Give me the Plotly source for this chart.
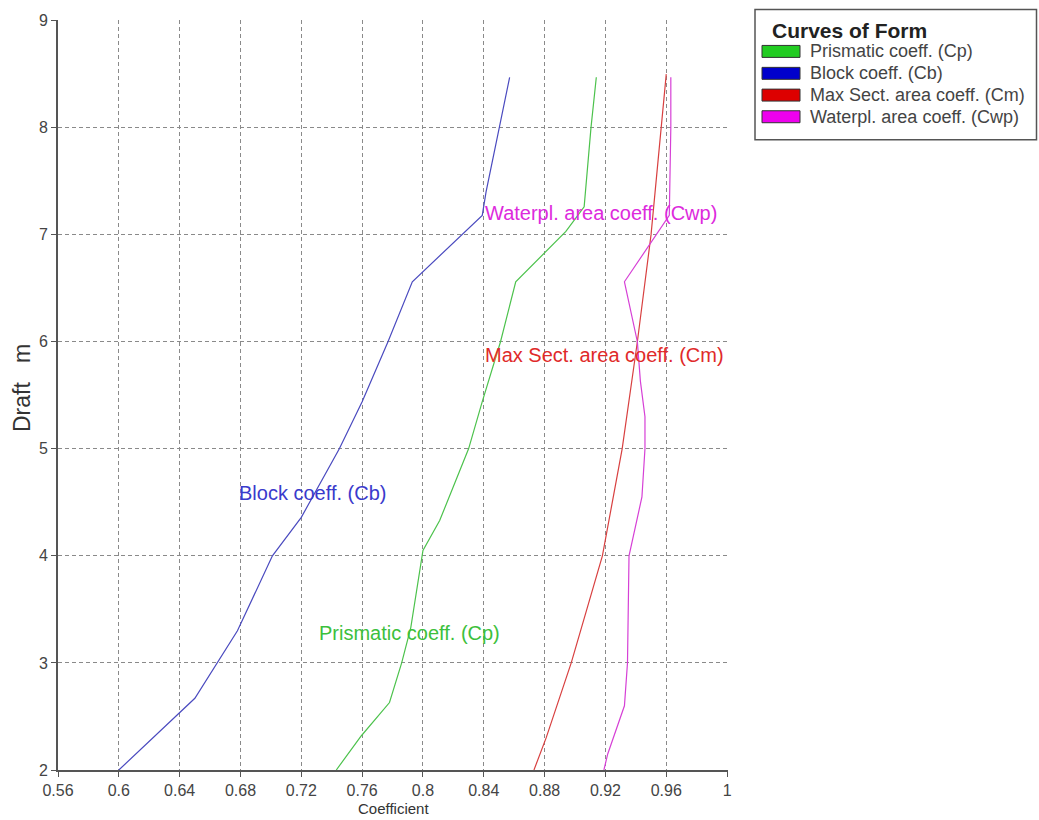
import plotly.graph_objects as go

# ---- data ----
series_names = ["Prismatic coeff. (Cp)", "Block coeff. (Cb)",
                "Max Sect. area coeff. (Cm)", "Waterpl. area coeff. (Cwp)"]

cp_draft = [2.0, 2.32, 2.63, 3.0, 3.33, 4.05, 4.33, 5.0, 5.44, 6.0, 6.56, 7.03, 7.26, 8.0, 8.47]
cp = [0.743, 0.7595, 0.778, 0.786, 0.792, 0.800, 0.811, 0.830, 0.839, 0.851, 0.861, 0.894, 0.906, 0.9105, 0.914]

cb_draft = [2.0, 2.67, 3.30, 4.0, 4.36, 5.0, 5.44, 6.0, 6.56, 7.18, 7.40, 8.0, 8.47]
cb = [0.600, 0.650, 0.678, 0.701, 0.720, 0.745, 0.760, 0.777, 0.793, 0.839, 0.8415, 0.850, 0.857]

cm_draft = [2.0, 2.3, 3.0, 4.0, 5.0, 6.0, 7.0, 8.0, 8.5]
cm = [0.873, 0.881, 0.8975, 0.918, 0.931, 0.941, 0.950, 0.9565, 0.960]

cwp_draft = [2.0, 2.15, 2.6, 3.0, 4.0, 4.55, 5.0, 5.3, 5.63, 6.0, 6.56, 6.9, 7.18, 8.0, 8.47]
cwp = [0.919, 0.9215, 0.9325, 0.9345, 0.9355, 0.944, 0.946, 0.946, 0.943, 0.941, 0.9325, 0.949, 0.962, 0.963, 0.963]

x_ticks = [0.56, 0.6, 0.64, 0.68, 0.72, 0.76, 0.8, 0.84, 0.88, 0.92, 0.96, 1.0]
x_tick_labels = ["0.56", "0.6", "0.64", "0.68", "0.72", "0.76", "0.8", "0.84", "0.88", "0.92", "0.96", "1"]
y_ticks = [2, 3, 4, 5, 6, 7, 8, 9]

# in-plot labels: (x, y)
label_pos = [(0.7305, 3.28), (0.678, 4.59), (0.8395, 5.88), (0.8395, 7.20)]

line_colors = ["#4cc24c", "#4a4abf", "#d84040", "#d640d6"]
label_colors = ["#3cc03c", "#3a3acc", "#e02a2a", "#dd2add"]
swatch_colors = ["#22cc22", "#0000cc", "#dd0000", "#ee00ee"]

FONT = "Liberation Sans, Arial, sans-serif"
W, H = 1039, 820
ML, MR, MT, MB = 58, 311, 18, 50
PW, PH = W - ML - MR, H - MT - MB


def px(xp):
    return (xp - ML) / PW


def py(yp):
    return (H - MB - yp) / PH


fig = go.Figure()
data = [(cp_draft, cp), (cb_draft, cb), (cm_draft, cm), (cwp_draft, cwp)]
for (d, c), name, col in zip(data, series_names, line_colors):
    fig.add_trace(go.Scatter(x=c, y=d, mode="lines", name=name,
                             line=dict(color=col, width=1.2), showlegend=False))

annotations = []
for name, (lx, ly), col in zip(series_names, label_pos, label_colors):
    annotations.append(dict(x=lx, y=ly, xref="x", yref="y", text=name, showarrow=False,
                            xanchor="left", yanchor="middle",
                            font=dict(family=FONT, size=20, color=col)))

# axis titles
annotations.append(dict(x=px(22), y=py(387), xref="paper", yref="paper",
                        text="Draft\u00a0\u00a0\u00a0m", textangle=-90, showarrow=False,
                        xanchor="center", yanchor="middle",
                        font=dict(family=FONT, size=23, color="#333")))
annotations.append(dict(x=px(393), y=py(809), xref="paper", yref="paper",
                        text="Coefficient", showarrow=False,
                        xanchor="center", yanchor="middle",
                        font=dict(family=FONT, size=15, color="#333")))

# legend box (manual, rectangular swatches)
shapes = [dict(type="rect", xref="paper", yref="paper",
               x0=px(755), x1=px(1036.5), y0=py(138), y1=py(7.5),
               line=dict(color="#555", width=1.5), fillcolor="white", layer="above")]
annotations.append(dict(x=px(770), y=py(29), xref="paper", yref="paper",
                        text="<b>Curves of Form</b>", showarrow=False,
                        xanchor="left", yanchor="middle",
                        font=dict(family=FONT, size=21, color="#222")))
row_y = [49.5, 71.5, 93.3, 115]
for name, col, ry in zip(series_names, swatch_colors, row_y):
    shapes.append(dict(type="rect", xref="paper", yref="paper",
                       x0=px(762), x1=px(800), y0=py(ry + 6), y1=py(ry - 6),
                       line=dict(color="#333", width=1), fillcolor=col, layer="above"))
    annotations.append(dict(x=px(808), y=py(ry), xref="paper", yref="paper",
                            text=name, showarrow=False, xanchor="left", yanchor="middle",
                            font=dict(family=FONT, size=18, color="#444")))

fig.update_layout(
    width=W, height=H,
    margin=dict(l=ML, r=MR, t=MT, b=MB, pad=0),
    paper_bgcolor="white", plot_bgcolor="white",
    showlegend=False,
    annotations=annotations, shapes=shapes,
    font=dict(family=FONT, color="#444"),
)
fig.update_xaxes(range=[0.56, 1.0006], tickvals=x_ticks, ticktext=x_tick_labels,
                 showgrid=True, gridcolor="#8a8a8a", griddash="4px,3px", gridwidth=1,
                 showline=True, linecolor="#555", linewidth=2,
                 ticks="outside", ticklen=5, tickcolor="#555",
                 tickfont=dict(family=FONT, size=16, color="#444"), zeroline=False)
fig.update_yaxes(range=[2, 9.005], tickvals=y_ticks,
                 showgrid=True, gridcolor="#8a8a8a", griddash="4px,3px", gridwidth=1,
                 showline=True, linecolor="#555", linewidth=2,
                 ticks="outside", ticklen=5, tickcolor="#555",
                 tickfont=dict(family=FONT, size=16, color="#444"), zeroline=False)

fig.write_html("out.html", config={"displayModeBar": False},
               post_script="document.body.style.margin='0';document.body.style.padding='0';")
